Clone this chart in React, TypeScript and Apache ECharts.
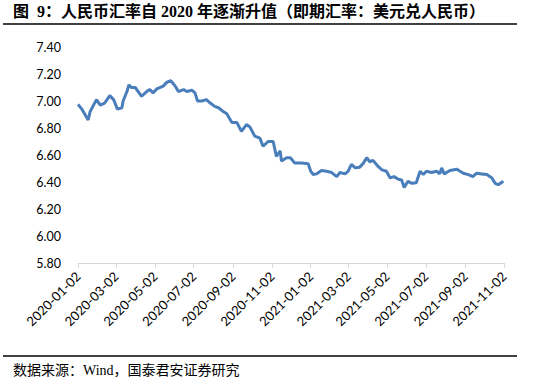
import React, { useEffect, useRef } from "react";
import * as echarts from "echarts";

const titleText = "图  9：人民币汇率自 2020 年逐渐升值（即期汇率：美元兑人民币）";
const sourceText = "数据来源：Wind，国泰君安证券研究";

// x positions are days since 2020-01-02
const tickDays = [0, 60, 121, 182, 244, 305, 366, 425, 486, 547, 609, 670];
const tickLabels = [
  "2020-01-02", "2020-03-02", "2020-05-02", "2020-07-02", "2020-09-02", "2020-11-02",
  "2021-01-02", "2021-03-02", "2021-05-02", "2021-07-02", "2021-09-02", "2021-11-02",
];

const dayOffsets = [
  0, 6, 16, 19, 29, 35, 42, 50, 56, 62, 69, 71, 77, 80, 84, 90, 100, 108, 113, 118,
  124, 134, 140, 146, 153, 158, 166, 171, 179, 184, 188, 195, 202, 208, 215, 221, 229, 234, 242, 250,
  257, 265, 270, 278, 286, 291, 299, 307, 312, 318, 320, 328, 334, 341, 352, 362, 366, 370, 375, 383,
  391, 399, 407, 412, 420, 425, 430, 436, 443, 449, 454, 459, 464, 472, 478, 485, 491, 497, 504, 509,
  513, 519, 525, 532, 538, 543, 548, 556, 564, 569, 572, 576, 585, 596, 606, 614, 621, 627, 635, 643,
  651, 656, 661, 669,
];
const spotRate = [
  6.975, 6.94, 6.86, 6.92, 7.01, 6.97, 6.985, 7.04, 7.01, 6.94, 6.95, 7.0, 7.07, 7.12, 7.1, 7.1, 7.035, 7.07, 7.085, 7.06,
  7.09, 7.11, 7.14, 7.15, 7.11, 7.07, 7.085, 7.07, 7.08, 7.06, 7.0, 7.0, 7.01, 6.985, 6.96, 6.95, 6.92, 6.905, 6.84, 6.84,
  6.775, 6.825, 6.81, 6.74, 6.725, 6.665, 6.7, 6.7, 6.59, 6.63, 6.555, 6.58, 6.58, 6.54, 6.54, 6.535, 6.48, 6.455, 6.46, 6.485,
  6.48, 6.47, 6.44, 6.47, 6.46, 6.48, 6.53, 6.505, 6.51, 6.54, 6.58, 6.55, 6.56, 6.515, 6.49, 6.48, 6.43, 6.44, 6.42, 6.415,
  6.36, 6.405, 6.39, 6.395, 6.48, 6.455, 6.48, 6.47, 6.48, 6.46, 6.505, 6.46, 6.485, 6.495, 6.465, 6.455, 6.44, 6.465, 6.46, 6.455,
  6.43, 6.39, 6.38, 6.405,
];

export default function App() {
  const ref = useRef<HTMLDivElement>(null);
  useEffect(() => {
    if (!ref.current) return;
    const chart = echarts.init(ref.current, null, { renderer: "svg" });
    const data = dayOffsets.map((d, i) => [d, spotRate[i]]);
    chart.setOption({
      animation: false,
      backgroundColor: "#fff",
      grid: { left: 78, right: 50, top: 47, bottom: 120, containLabel: false },
      xAxis: {
        type: "value",
        min: 0,
        max: 670,
        splitLine: { show: false },
        axisLine: { show: true, lineStyle: { color: "#d9d9d9", width: 1 } },
        axisTick: { show: true, customValues: tickDays, length: 5, lineStyle: { color: "#d9d9d9" } },
        axisLabel: {
          customValues: tickDays,
          rotate: 45,
          margin: 11,
          color: "#000",
          fontSize: 13,
          fontFamily: "Lato, 'Open Sans', sans-serif",
          formatter: (v: number) => {
            const i = tickDays.indexOf(Math.round(v));
            return i >= 0 ? tickLabels[i] : "";
          },
        },
      },
      yAxis: {
        type: "value",
        min: 5.8,
        max: 7.4,
        interval: 0.2,
        splitLine: { show: false },
        axisLine: { show: false },
        axisTick: { show: false },
        axisLabel: {
          margin: 17,
          color: "#000",
          fontSize: 12.5,
          fontFamily: "Lato, 'Open Sans', sans-serif",
          formatter: (v: number) => v.toFixed(2),
        },
      },
      series: [
        {
          type: "line",
          data,
          symbol: "none",
          smooth: false,
          lineStyle: { color: "#4A7EBB", width: 3 },
          itemStyle: { color: "#4A7EBB" },
        },
      ],
      graphic: [
        {
          type: "text",
          left: 13,
          top: 3,
          style: {
            text: titleText,
            fontSize: 16,
            fontWeight: "bold",
            fontFamily: "'Liberation Serif', 'Noto Sans CJK SC', serif",
            fill: "#000",
          },
        },
        {
          type: "line",
          shape: { x1: 3, y1: 24, x2: 517, y2: 24 },
          style: { stroke: "#000", lineWidth: 1.5 },
        },
        {
          type: "line",
          shape: { x1: 3, y1: 356, x2: 517, y2: 356 },
          style: { stroke: "#000", lineWidth: 1.5 },
        },
        {
          type: "text",
          left: 13,
          top: 363,
          style: {
            text: sourceText,
            fontSize: 14,
            fontFamily: "'Liberation Serif', 'Noto Sans CJK SC', serif",
            fill: "#000",
          },
        },
      ],
    });
    return () => chart.dispose();
  }, []);
  return (
    <div
      ref={ref}
      style={{ position: "fixed", left: 0, top: 0, width: 554, height: 383, background: "#fff" }}
    />
  );
}
